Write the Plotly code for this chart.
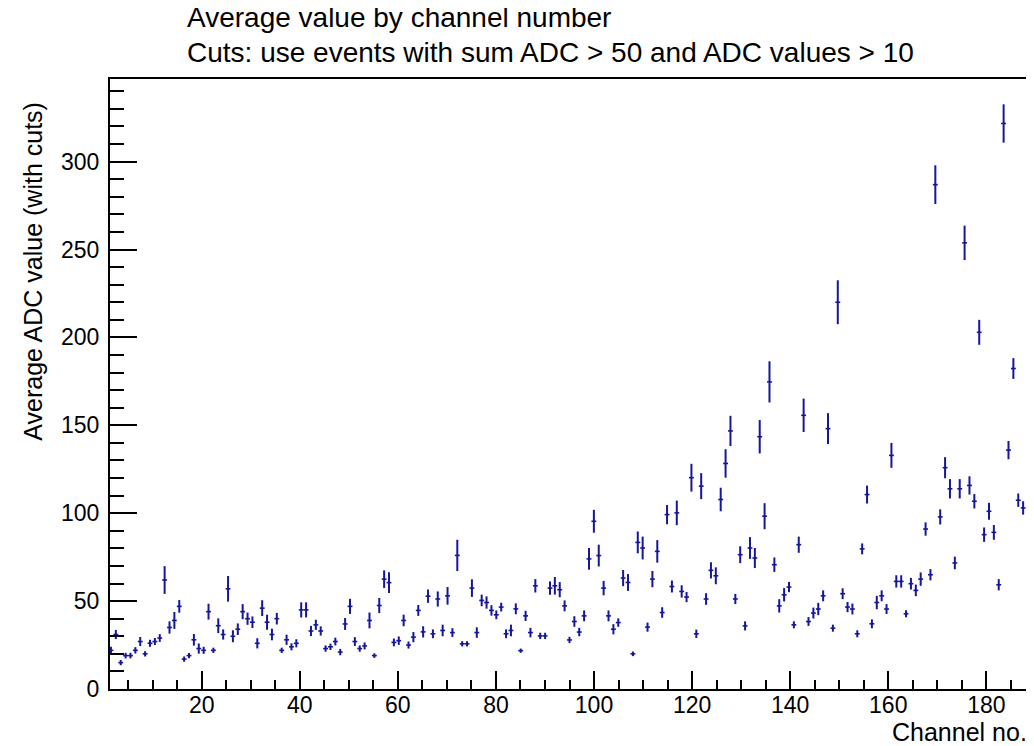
import numpy as np
import plotly.graph_objects as go

# ---- data -------------------------------------------------------------
channels = list(range(1, 189))

avg_adc = [
    22, 31, 15, 19, 19, 22, 27, 20, 26, 27, 29, 62, 35, 39, 47, 17, 19, 28, 23, 22,
    44, 22, 36, 31, 57, 30, 34, 44, 40, 38, 26, 46, 38, 31, 40, 22, 28, 24, 26, 45,
    45, 33, 36.5, 33, 23, 24, 27, 21, 37, 47, 27, 23, 24.5, 39, 19, 47.5, 62.5, 60.5, 26.5, 27.5,
    39, 25, 29.5, 44.7, 32.5, 52.8, 31.4, 51.2, 33.3, 53, 32.1, 76, 25.7, 25.7, 57.4, 32.1, 50.4, 49.2, 44.7, 42.2,
    46.6, 31.4, 33.3, 45.6, 21.8, 41.6, 32.1, 58.7, 30.2, 30.2, 57.4, 58.7, 56.5, 47.3, 27.9, 38.4, 32.4, 41.6, 74, 95.4,
    75.9, 57.4, 41.6, 34, 37.8, 63.1, 60.6, 20, 83.4, 80.2, 35.2, 62.5, 78.3, 43.5, 99.2, 58.3, 100.2, 55.5, 52.3, 120.2,
    31.4, 115.4, 51.2, 67.5, 64.4, 107.8, 128.3, 146.8, 51.2, 76.4, 35.9, 80.2, 74.5, 143.5, 98.3, 174.7, 70.7, 47.3, 53.6, 58,
    36.5, 82.1, 155.7, 38.4, 43.2, 45.5, 53, 148.1, 34.6, 220, 54.2, 46.6, 45.5, 31.4, 79.7, 110.6, 37.1, 49.2, 53, 45.5,
    132.9, 61.2, 61.2, 42.8, 59.9, 56.1, 62.5, 91, 65, 286.9, 97.9, 125.9, 113.9, 71.7, 113.9, 253.8, 115.8, 106.8, 202.9, 87.8,
    101.1, 89.1, 59.3, 321.7, 135.9, 182.3, 107.4, 103,
]

avg_err = [
    2, 2.6, 1.5, 1.6, 1.6, 1.8, 2.6, 1.5, 2, 2, 2.2, 7.9, 3.5, 4.8, 3.6, 1.5, 1.5, 3.3, 2.9, 2,
    4.5, 1.5, 4.2, 2.9, 7.3, 3.4, 3.3, 4.3, 3.5, 3.3, 2.9, 4.5, 4.3, 3.3, 3.3, 1.5, 2.9, 2, 2.3, 4.3,
    4.3, 2.9, 2.9, 2.6, 1.8, 1.8, 2.2, 1.8, 3.4, 4.3, 2.5, 1.8, 2, 4.5, 1.3, 4.3, 5, 5.9, 2.2, 2.4,
    3.3, 2, 2.9, 3.1, 3.2, 3.8, 2.5, 4.3, 3.3, 5, 2.5, 8.9, 1.5, 1.5, 5, 3, 3.3, 3.5, 3, 2.5,
    2.5, 2.5, 3.3, 3.1, 1.2, 2.9, 2.7, 3.8, 1.8, 1.8, 3.8, 5, 4.3, 3.1, 1.8, 3, 2.4, 3.1, 6.2, 6.5,
    6.2, 4.1, 3.1, 2.9, 2.4, 4.6, 4.8, 1.3, 6.2, 6.5, 2.6, 4.6, 6.4, 3, 5.5, 3.4, 7, 3.5, 2.9, 7.9,
    2.4, 7.4, 3.3, 4.6, 4.8, 6.7, 8.1, 8.6, 2.9, 4.8, 2.6, 6.2, 5.7, 9.5, 7.4, 11.7, 4.1, 3.8, 3.8, 2.9,
    2, 4.6, 9.5, 2.5, 3.1, 3.5, 3.1, 8.8, 2, 12.5, 3.1, 2.9, 3.1, 2, 3.1, 5.1, 2.5, 3.8, 3.1, 2.8,
    7.1, 3.5, 3.5, 2, 3.3, 3.3, 3.8, 3.8, 3.2, 11, 4.3, 6, 5.5, 3.6, 5.5, 9.8, 5.2, 4.1, 7.1, 4.1,
    4.8, 4.2, 3.2, 10.9, 5.2, 5.9, 3.8, 3.8,
]

title_lines = ["Average value by channel number",
               "Cuts: use events with sum ADC > 50 and ADC values > 10"]
x_title = "Channel no."
y_title = "Average ADC value (with cuts)"

# histogram binning (188 bins spanning channel axis 1..188)
bin_lo, bin_hi = 1.0, 188.0
edges = np.linspace(bin_lo, bin_hi, len(channels) + 1)
centers = 0.5 * (edges[:-1] + edges[1:])
half_w = 0.5 * np.diff(edges)

color = "#16169c"
font = "Liberation Sans, Arial, Helvetica, sans-serif"

fig = go.Figure()
fig.add_trace(go.Scatter(
    x=centers, y=avg_adc,
    mode="markers",
    marker=dict(size=1, color=color),
    error_y=dict(type="data", array=avg_err, visible=True, color=color,
                 thickness=2, width=0),
    error_x=dict(type="data", array=half_w, visible=True, color=color,
                 thickness=1.6, width=0),
    showlegend=False,
    hoverinfo="x+y",
))

# page body adds an 8px offset; figure sized to fill the rest of the window
fig.update_layout(
    width=1026, height=738,
    margin=dict(l=102, r=3, t=71, b=57, pad=0),
    paper_bgcolor="white", plot_bgcolor="white",
    font=dict(family=font, color="black"),
)

fig.update_xaxes(
    range=[1.3, 188.7],
    showgrid=False, zeroline=False,
    showline=True, linecolor="black", linewidth=2, mirror=True,
    ticks="inside", ticklen=18, tickwidth=1.5, tickcolor="black",
    tick0=0, dtick=20,
    minor=dict(ticks="inside", dtick=5, tick0=0, ticklen=9, tickwidth=1.5, tickcolor="black"),
    tickfont=dict(size=23, family=font, color="black"),
    ticklabelstandoff=-6,
)
fig.update_yaxes(
    range=[0, 347],
    showgrid=False, zeroline=False,
    showline=True, linecolor="black", linewidth=2, mirror=True,
    ticks="inside", ticklen=27, tickwidth=1.5, tickcolor="black",
    tick0=0, dtick=50,
    minor=dict(ticks="inside", dtick=10, tick0=0, ticklen=13.5, tickwidth=1.5, tickcolor="black"),
    tickfont=dict(size=23, family=font, color="black"),
    ticklabelstandoff=4,
)

# plot area: 921 px wide, 610 px tall
fig.add_annotation(text=title_lines[0], xref="paper", yref="paper",
                   x=0.0814, y=1.10, xanchor="left", yanchor="middle",
                   showarrow=False, font=dict(size=28, family=font, color="black"))
fig.add_annotation(text=title_lines[1], xref="paper", yref="paper",
                   x=0.0814, y=1.044, xanchor="left", yanchor="middle",
                   showarrow=False, font=dict(size=28, family=font, color="black"))
fig.add_annotation(text=x_title, xref="paper", yref="paper",
                   x=1.0, y=-0.07, xanchor="right", yanchor="middle",
                   showarrow=False, font=dict(size=25, family=font, color="black"))
fig.add_annotation(text=y_title, xref="paper", yref="paper",
                   x=-0.0836, y=0.9656, xanchor="center", yanchor="top",
                   textangle=-90,
                   showarrow=False, font=dict(size=25, family=font, color="black"))

fig.write_html("out.html")
